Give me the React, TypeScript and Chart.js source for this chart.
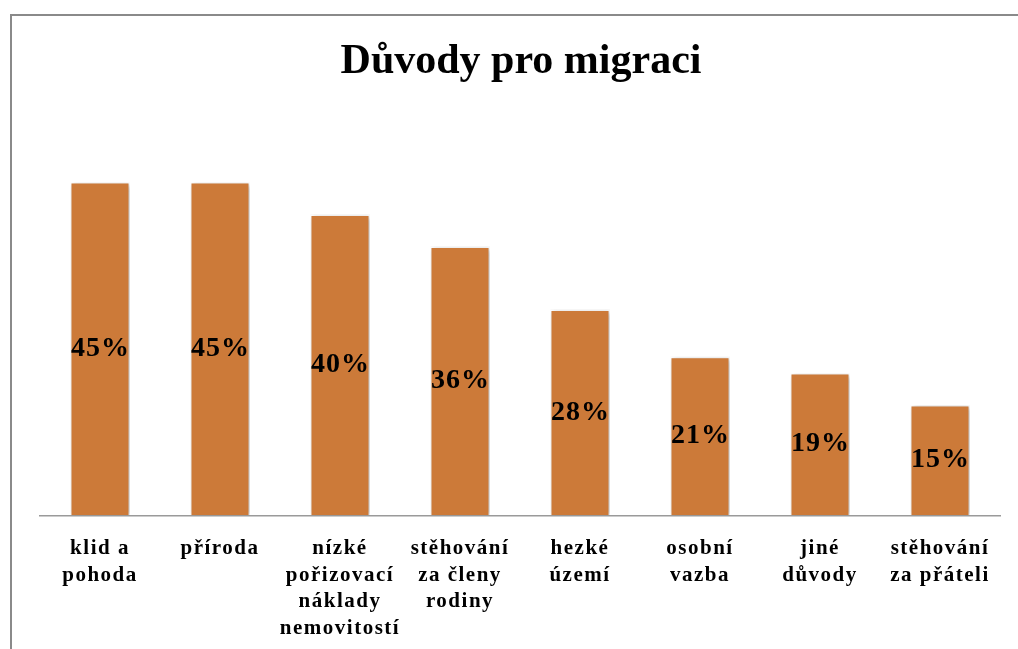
import React, { useEffect, useRef } from "react";
import { Chart, registerables } from "chart.js";

Chart.register(...registerables);

const TITLE = "Důvody pro migraci";
const categories: string[][] = [
  ["klid a", "pohoda"],
  ["příroda"],
  ["nízké", "pořizovací", "náklady", "nemovitostí"],
  ["stěhování", "za členy", "rodiny"],
  ["hezké", "území"],
  ["osobní", "vazba"],
  ["jiné", "důvody"],
  ["stěhování", "za přáteli"],
];
const values: number[] = [45, 45, 40.6, 36.3, 27.8, 21.4, 19.2, 14.9];
const valueLabels: string[] = ["45%", "45%", "40%", "36%", "28%", "21%", "19%", "15%"];

const SERIF = "'Liberation Serif', 'Times New Roman', serif";
const TICK_SPACING = "1.5px";

export default function App() {
  const ref = useRef<HTMLCanvasElement | null>(null);
  useEffect(() => {
    if (!ref.current) return;
    const spacingPlugin = {
      id: "spacing",
      beforeUpdate(chart: any) {
        (chart.ctx as any).letterSpacing = TICK_SPACING;
      },
      beforeDraw(chart: any) {
        const ctx = chart.ctx;
        (ctx as any).letterSpacing = TICK_SPACING;
        ctx.save();
        ctx.fillStyle = "#ffffff";
        ctx.fillRect(0, 0, chart.width, chart.height);
        ctx.strokeStyle = "#8a8a8a";
        ctx.lineWidth = 2;
        ctx.beginPath();
        ctx.moveTo(11, chart.height);
        ctx.lineTo(11, 15);
        ctx.lineTo(chart.width, 15);
        ctx.stroke();
        ctx.restore();
      },
    };
    const shadowPlugin = {
      id: "barShadow",
      beforeDatasetsDraw(chart: any) {
        const ctx = chart.ctx;
        ctx.save();
        ctx.shadowColor = "rgba(0,0,0,0.3)";
        ctx.shadowBlur = 5;
        ctx.shadowOffsetX = 1;
        ctx.shadowOffsetY = 1;
      },
      afterDatasetsDraw(chart: any) {
        chart.ctx.restore();
      },
    };
    const labelPlugin = {
      id: "valueLabels",
      afterDraw(chart: any) {
        const ctx = chart.ctx;
        const meta = chart.getDatasetMeta(0);
        ctx.save();
        (ctx as any).letterSpacing = "1px";
        ctx.font = `bold 28px ${SERIF}`;
        ctx.fillStyle = "#000";
        ctx.textAlign = "center";
        ctx.textBaseline = "middle";
        meta.data.forEach((bar: any, i: number) => {
          const y = (bar.y + bar.base) / 2;
          ctx.fillText(valueLabels[i], bar.x + 0.5, y);
        });
        ctx.restore();

        ctx.save();
        (ctx as any).letterSpacing = "0px";
        ctx.font = `bold 42px ${SERIF}`;
        ctx.fillStyle = "#000";
        ctx.textAlign = "center";
        ctx.textBaseline = "alphabetic";
        ctx.fillText(TITLE, 521, 73);
        ctx.restore();
      },
    };
    const chart = new Chart(ref.current, {
      type: "bar",
      data: {
        labels: categories,
        datasets: [
          {
            data: values,
            backgroundColor: "#CC7A39",
            borderColor: "#ffffff",
            borderWidth: 1.5,
            barPercentage: 0.5,
            categoryPercentage: 1,
          },
        ],
      },
      options: {
        animation: false,
        responsive: false,
        maintainAspectRatio: false,
        layout: { padding: { left: 40, right: 18, top: 145, bottom: 0 } },
        plugins: {
          legend: { display: false },
          tooltip: { enabled: false },
          title: { display: false },
        },
        scales: {
          x: {
            grid: { display: false, drawTicks: false },
            border: { display: true, color: "#9a9a9a", width: 1.5 },
            ticks: {
              color: "#000",
              font: { family: SERIF, size: 21, weight: "bold", lineHeight: 1.27 },
              padding: 20,
              maxRotation: 0,
              autoSkip: false,
            },
          },
          y: {
            display: false,
            min: 0,
            max: 50,
          },
        },
      },
      plugins: [spacingPlugin, shadowPlugin, labelPlugin],
    });
    return () => chart.destroy();
  }, []);
  return (
    <div style={{ position: "fixed", left: 0, top: 0, width: 1018, height: 662, background: "#fff" }}>
      <canvas ref={ref} width={1018} height={662} style={{ display: "block", width: 1018, height: 662 }} />
    </div>
  );
}
